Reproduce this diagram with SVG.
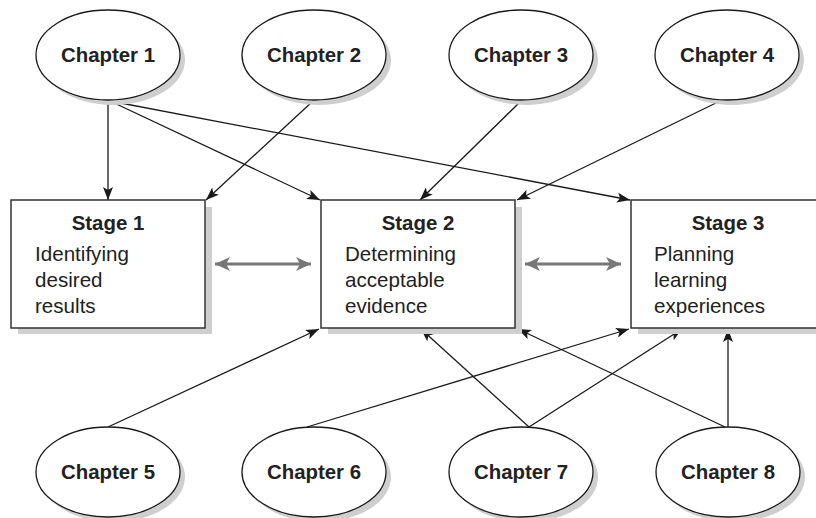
<svg xmlns="http://www.w3.org/2000/svg" width="816" height="518" viewBox="0 0 816 518">
<defs>
<marker id="ah" markerUnits="userSpaceOnUse" markerWidth="14" markerHeight="10" refX="13" refY="5" orient="auto">
<path d="M0,0 L13,5 L0,10 L3,5 z" fill="#1a1a1a"/>
</marker>
<marker id="gh" markerUnits="userSpaceOnUse" markerWidth="16" markerHeight="14" refX="15" refY="7" orient="auto-start-reverse">
<path d="M0,0 L15,7 L0,14 L4,7 z" fill="#777"/>
</marker>
</defs>
<style>
.sh{fill:#cfcfcf;stroke:none}
.ell{fill:#fff;stroke:#1a1a1a;stroke-width:1.3}
.box{fill:#fff;stroke:#333;stroke-width:1.5}
.ct{font-family:"Liberation Sans",Arial,sans-serif;font-weight:bold;font-size:20.4px;fill:#222;text-anchor:middle}
.st{font-family:"Liberation Sans",Arial,sans-serif;font-weight:bold;font-size:20.4px;fill:#222;text-anchor:middle}
.bt{font-family:"Liberation Sans",Arial,sans-serif;font-size:20.6px;fill:#222}
.cn{stroke:#1a1a1a;stroke-width:1.3;fill:none;marker-end:url(#ah)}
.dbl{stroke:#777;stroke-width:3;fill:none;marker-start:url(#gh);marker-end:url(#gh)}
</style>
<rect width="816" height="518" fill="#fff"/>
<g id="connectors">
<line class="cn" x1="108" y1="101" x2="108" y2="200"/>
<line class="cn" x1="110" y1="101" x2="320" y2="200"/>
<line class="cn" x1="110" y1="101" x2="630" y2="200"/>
<line class="cn" x1="313" y1="101" x2="206" y2="200"/>
<line class="cn" x1="521" y1="101" x2="420" y2="200"/>
<line class="cn" x1="720" y1="101" x2="517" y2="200"/>
<line class="cn" x1="108" y1="427" x2="319" y2="329"/>
<line class="cn" x1="307" y1="427" x2="629" y2="329"/>
<line class="cn" x1="529" y1="427" x2="421" y2="329"/>
<line class="cn" x1="529" y1="427" x2="682" y2="329"/>
<line class="cn" x1="725" y1="427" x2="518" y2="329"/>
<line class="cn" x1="728" y1="427" x2="728" y2="329"/>
<line class="dbl" x1="215" y1="264" x2="311" y2="264"/>
<line class="dbl" x1="525" y1="264" x2="621" y2="264"/>
</g>
<g id="chapter1"><ellipse class="sh" cx="113" cy="60" rx="72" ry="45"/><ellipse class="ell" cx="108" cy="55" rx="72" ry="45"/><text class="ct" x="108" y="62">Chapter 1</text></g>
<g id="chapter2"><ellipse class="sh" cx="319" cy="60" rx="72" ry="45"/><ellipse class="ell" cx="314" cy="55" rx="72" ry="45"/><text class="ct" x="314" y="62">Chapter 2</text></g>
<g id="chapter3"><ellipse class="sh" cx="526" cy="60" rx="72" ry="45"/><ellipse class="ell" cx="521" cy="55" rx="72" ry="45"/><text class="ct" x="521" y="62">Chapter 3</text></g>
<g id="chapter4"><ellipse class="sh" cx="732" cy="60" rx="72" ry="45"/><ellipse class="ell" cx="727" cy="55" rx="72" ry="45"/><text class="ct" x="727" y="62">Chapter 4</text></g>
<g id="chapter5"><ellipse class="sh" cx="113" cy="477" rx="72" ry="45"/><ellipse class="ell" cx="108" cy="472" rx="72" ry="45"/><text class="ct" x="108" y="479">Chapter 5</text></g>
<g id="chapter6"><ellipse class="sh" cx="319" cy="477" rx="72" ry="45"/><ellipse class="ell" cx="314" cy="472" rx="72" ry="45"/><text class="ct" x="314" y="479">Chapter 6</text></g>
<g id="chapter7"><ellipse class="sh" cx="526" cy="477" rx="72" ry="45"/><ellipse class="ell" cx="521" cy="472" rx="72" ry="45"/><text class="ct" x="521" y="479">Chapter 7</text></g>
<g id="chapter8"><ellipse class="sh" cx="733" cy="477" rx="72" ry="45"/><ellipse class="ell" cx="728" cy="472" rx="72" ry="45"/><text class="ct" x="728" y="479">Chapter 8</text></g>
<g id="stage1"><rect class="sh" x="18" y="207" width="194" height="127"/><rect class="box" x="11" y="200" width="194" height="128"/>
<text class="st" x="108" y="230">Stage 1</text>
<text class="bt" x="35" y="261">Identifying</text><text class="bt" x="35" y="287">desired</text><text class="bt" x="35" y="313">results</text></g>
<g id="stage2"><rect class="sh" x="328" y="207" width="194" height="127"/><rect class="box" x="321" y="200" width="194" height="128"/>
<text class="st" x="418" y="230">Stage 2</text>
<text class="bt" x="345" y="261">Determining</text><text class="bt" x="345" y="287">acceptable</text><text class="bt" x="345" y="313">evidence</text></g>
<g id="stage3"><rect class="sh" x="638" y="207" width="194" height="127"/><rect class="box" x="631" y="200" width="194" height="128"/>
<text class="st" x="728" y="230">Stage 3</text>
<text class="bt" x="654" y="261">Planning</text><text class="bt" x="654" y="287">learning</text><text class="bt" x="654" y="313">experiences</text></g>
</svg>
